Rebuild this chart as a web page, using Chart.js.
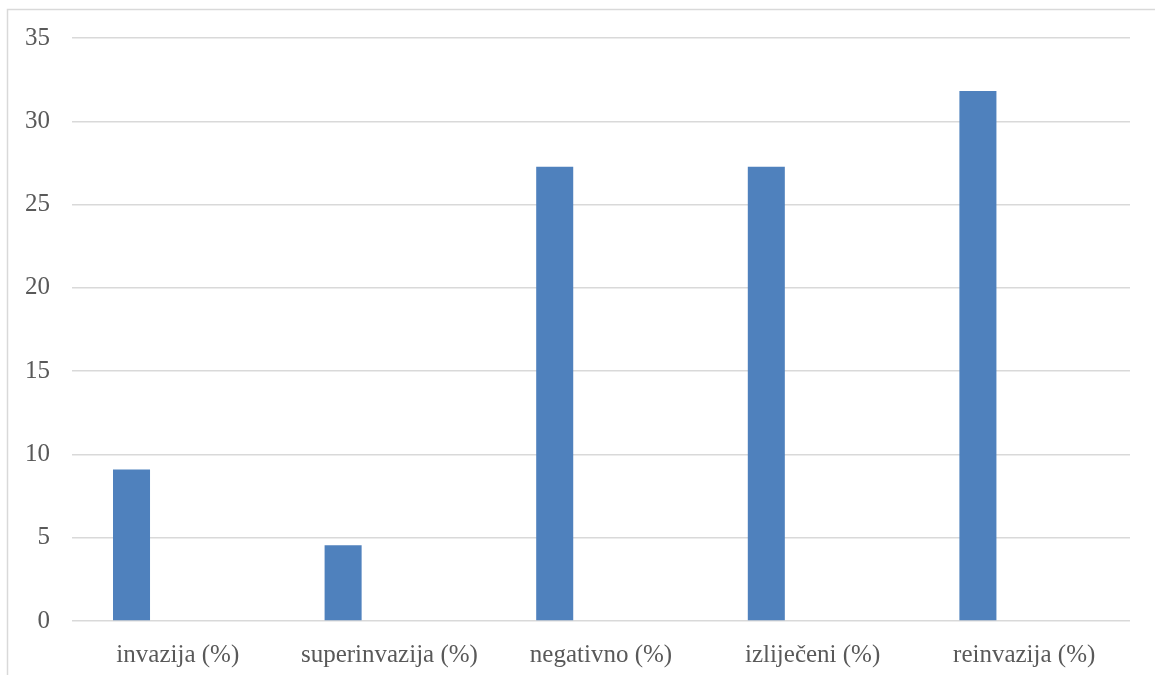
<!DOCTYPE html>
<html>
<head>
<meta charset="utf-8">
<script src="https://cdn.jsdelivr.net/npm/chart.js@4/dist/chart.umd.min.js"></script>
<style>
html,body{margin:0;padding:0;background:#fff;}
#wrap{width:1155px;height:675px;position:relative;}
</style>
</head>
<body>
<div id="wrap"><canvas id="c" width="1155" height="675"></canvas></div>
<script>
const categories = ["invazija (%)", "superinvazija (%)", "negativno (%)", "izliječeni (%)", "reinvazija (%)"];
const seriesValues = [9.09, 4.55, 27.27, 27.27, 31.82];
const emptySeries = [null, null, null, null, null];
const yTicks = [0, 5, 10, 15, 20, 25, 30, 35];

const borderPlugin = {
  id: 'outerBorder',
  beforeDraw(chart) {
    const ctx = chart.ctx;
    ctx.save();
    ctx.strokeStyle = '#d9d9d9';
    ctx.lineWidth = 1.5;
    ctx.strokeRect(7.5, 9.5, 1200, 700);
    ctx.restore();
  }
};

new Chart(document.getElementById('c'), {
  type: 'bar',
  data: {
    labels: categories,
    datasets: [
      { data: seriesValues, backgroundColor: '#4f81bd', borderWidth: 0, categoryPercentage: 0.875, barPercentage: 0.4 },
      { data: emptySeries, backgroundColor: '#c0504d', borderWidth: 0, categoryPercentage: 0.875, barPercentage: 0.4 }
    ]
  },
  plugins: [borderPlugin],
  options: {
    responsive: false,
    animation: false,
    devicePixelRatio: 1,
    layout: { padding: { left: 0, right: 25, top: 38, bottom: 0 } },
    plugins: { legend: { display: false }, tooltip: { enabled: false } },
    scales: {
      x: {
        grid: { display: false },
        border: { display: false },
        ticks: { color: '#595959', font: { family: 'Liberation Serif', size: 25 }, padding: 11, maxRotation: 0 },
        afterFit(s) { s.height = 54; s.paddingLeft = 0; s.paddingRight = 0; }
      },
      y: {
        min: 0, max: 35,
        afterBuildTicks(s) { s.ticks = yTicks.map(v => ({ value: v })); },
        grid: { color: '#d9d9d9', lineWidth: 1.5, drawTicks: false },
        border: { display: false },
        ticks: { color: '#595959', font: { family: 'Liberation Serif', size: 25 }, padding: 22 },
        afterFit(s) { s.width = 72; s.paddingTop = 0; s.paddingBottom = 0; }
      }
    }
  }
});
</script>
</body>
</html>
